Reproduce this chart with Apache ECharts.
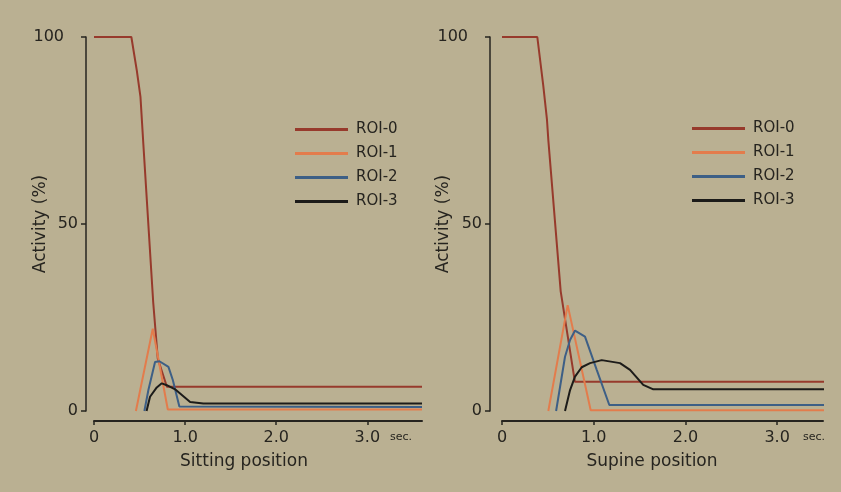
<!DOCTYPE html>
<html>
<head>
<meta charset="utf-8">
<script src="https://cdn.jsdelivr.net/npm/echarts@6/dist/echarts.min.js"></script>
<style>
  html, body { margin: 0; padding: 0; background: #bab092; }
  #main { width: 841px; height: 492px; }
</style>
</head>
<body>
<div id="main"></div>
<script>
// [time (sec), activity (%)]
var roiNames = ['ROI-0', 'ROI-1', 'ROI-2', 'ROI-3'];
var roiColors = ['#973a2c', '#e37c4c', '#3d5f86', '#1c1b19'];
var xTicks = [0, 1, 2, 3];
var yTicks = [0, 50, 100];

var sitting0 = [[0,100],[0.41,100],[0.47,91],[0.51,84],[0.54,72],[0.65,29],[0.70,14],[0.80,6.5],[3.6,6.5]];
var sitting1 = [[0.46,0],[0.645,22],[0.81,0.4],[3.6,0.4]];
var sitting2 = [[0.553,0],[0.597,5.6],[0.67,13.1],[0.718,13.3],[0.817,11.8],[0.865,8.3],[0.937,1.2],[3.6,1.1]];
var sitting3 = [[0.577,0],[0.615,3.8],[0.689,6.3],[0.744,7.4],[0.799,6.9],[0.89,5.8],[1.055,2.4],[1.2,2.0],[3.6,2.0]];

var supine0 = [[0,100],[0.385,100],[0.45,87],[0.49,78],[0.505,72.5],[0.64,32],[0.795,7.8],[3.55,7.8]];
var supine1 = [[0.505,0],[0.716,28.3],[0.967,0.2],[3.55,0.2]];
var supine2 = [[0.59,0],[0.687,14.5],[0.742,19],[0.796,21.5],[0.905,19.9],[1.033,11],[1.17,1.6],[3.55,1.6]];
var supine3 = [[0.687,0],[0.742,5.6],[0.796,9.2],[0.869,11.7],[0.96,12.8],[1.087,13.6],[1.287,12.8],[1.396,11],[1.54,7],[1.65,5.8],[3.55,5.8]];

var sittingData = [sitting0, sitting1, sitting2, sitting3];
var supineData = [supine0, supine1, supine2, supine3];

var font = 'DejaVu Sans';
var ink = '#26241f';

function makeX(idx, max) {
    return {
        type: 'value', gridIndex: idx, min: 0, max: max, interval: 1,
        offset: 10,
        axisLine: { show: true, onZero: false, lineStyle: { color: ink, width: 2 } },
        axisTick: { show: true, customValues: xTicks, length: 4, lineStyle: { color: ink, width: 1.5 } },
        axisLabel: {
            customValues: xTicks, margin: 9, color: ink, fontFamily: font, fontSize: 16,
            formatter: function (v) { return v === 0 ? '0' : v.toFixed(1); }
        },
        splitLine: { show: false }
    };
}

function makeY(idx, offset, gap) {
    return {
        type: 'value', gridIndex: idx, min: 0, max: 100, interval: 50,
        offset: offset,
        name: 'Activity (%)', nameLocation: 'middle', nameGap: gap, nameMoveOverlap: false,
        nameTextStyle: { color: ink, fontFamily: font, fontSize: 17 },
        axisLine: { show: true, onZero: false, lineStyle: { color: ink, width: 1.5 } },
        axisTick: { show: true, length: 5, lineStyle: { color: ink, width: 1.5 } },
        axisLabel: {
            margin: 8, color: ink, fontFamily: font, fontSize: 16,
            formatter: function (v) { return v === 100 ? '{h|100}' : String(v); },
            rich: { h: { color: ink, fontFamily: font, fontSize: 16, padding: [0, 14, 0, 0] } }
        },
        splitLine: { show: false }
    };
}

function makeLegend(left, top) {
    return {
        orient: 'vertical', left: left, top: top, padding: 0,
        icon: 'rect', itemWidth: 53, itemHeight: 3, itemGap: 7,
        data: roiNames,
        textStyle: { color: ink, fontFamily: font, fontSize: 15, lineHeight: 17, padding: [0, 0, 0, 3] }
    };
}

var series = [];
for (var i = 0; i < roiNames.length; i++) {
    series.push({
        name: roiNames[i], type: 'line', xAxisIndex: 0, yAxisIndex: 0,
        data: sittingData[i], showSymbol: false, symbol: 'none',
        lineStyle: { color: roiColors[i], width: 2 }, itemStyle: { color: roiColors[i] }
    });
    series.push({
        name: roiNames[i], type: 'line', xAxisIndex: 1, yAxisIndex: 1,
        data: supineData[i], showSymbol: false, symbol: 'none',
        lineStyle: { color: roiColors[i], width: 2 }, itemStyle: { color: roiColors[i] }
    });
}

var myChart = echarts.init(document.getElementById('main'));
var option = {
    backgroundColor: '#bab092',
    animation: false,
    grid: [
        { left: 94, top: 37, width: 328, bottom: 81 },
        { left: 502, top: 37, width: 321, bottom: 81 }
    ],
    xAxis: [makeX(0, 3.6), makeX(1, 3.5)],
    yAxis: [makeY(0, 8, 37), makeY(1, 12, 38)],
    legend: [makeLegend(295, 121), makeLegend(692, 120)],
    graphic: [
        { type: 'text', left: 390, top: 432, style: { text: 'sec.', fill: ink, font: '11px "DejaVu Sans"' } },
        { type: 'text', left: 803, top: 432, style: { text: 'sec.', fill: ink, font: '11px "DejaVu Sans"' } },
        { type: 'text', x: 244, y: 462, style: { text: 'Sitting position', fill: ink, font: '17px "DejaVu Sans"', align: 'center', verticalAlign: 'middle' } },
        { type: 'text', x: 652, y: 462, style: { text: 'Supine position', fill: ink, font: '17px "DejaVu Sans"', align: 'center', verticalAlign: 'middle' } }
    ],
    series: series
};
myChart.setOption(option);
</script>
</body>
</html>
